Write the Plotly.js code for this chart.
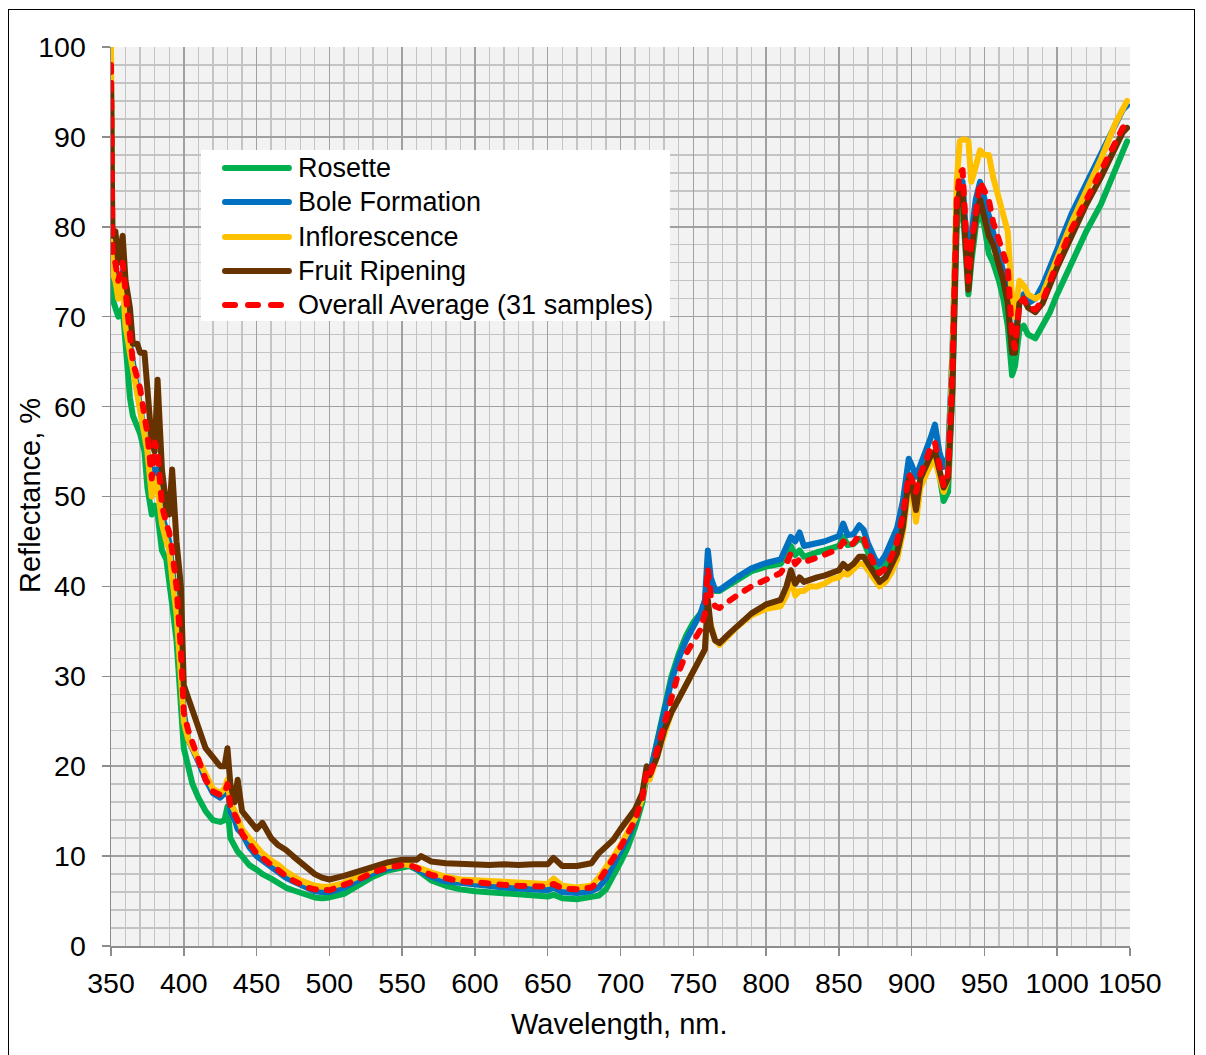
<!DOCTYPE html>
<html>
<head>
<meta charset="utf-8">
<script src="https://cdn.plot.ly/plotly-3.0.1.min.js"></script>
<style>
  html, body { margin: 0; padding: 0; background: #ffffff; }
  #wrap { position: relative; width: 1206px; height: 1055px; overflow: hidden; }
  #chart { position: absolute; left: 0; top: 0; width: 1206px; height: 1055px; }
  #frame { position: absolute; left: 8px; top: 9px; width: 1187px; height: 1100px;
           border: 1.5px solid #000; pointer-events: none; box-sizing: border-box; }
  #chart path.js-line { stroke-linecap: round !important; stroke-linejoin: round !important; }
  #chart .shapelayer path { stroke-linecap: round !important; }
</style>
</head>
<body>
<div id="wrap">
  <div id="chart"></div>
  <div id="frame"></div>
</div>
<script>
// ---- Data ----
const wavelength = [350,351,353,355,358,360,363,365,368,370,373,375,378,380,382,385,388,390,392,395,398,400,
  403,406,410,415,420,425,428,430,432,435,437,440,445,450,454,460,465,470,475,480,485,490,495,500,
  510,520,530,540,550,555,560,563,570,580,590,600,610,620,630,640,650,654,660,670,680,685,690,695,
  700,705,710,715,718,720,725,730,735,740,745,750,755,758,760,762,765,768,775,780,790,800,810,814,
  817,820,823,826,830,835,840,845,850,853,856,860,864,867,870,875,878,882,886,890,894,898,900,903,
  906,910,913,916,919,922,925,928,931,933,935,937,939,941,944,947,950,953,956,960,963,966,969,971,
  974,977,980,985,990,995,1000,1010,1020,1030,1040,1045,1048];

const rosette = [96,72,71,70,71,66,61,59,58,57,55,51,48,49,48,44,43,41,38,34,27,22,
  20,18,16.5,15,14,13.8,14,15.5,12,11,10.5,10,9,8.5,8,7.5,7,6.5,6.2,5.9,5.6,5.4,5.3,5.4,
  5.8,6.8,7.7,8.4,8.8,8.9,8.5,8.1,7.3,6.7,6.3,6.1,6,5.9,5.8,5.7,5.5,5.7,5.3,5.2,5.4,5.6,6.3,7.7,
  9.3,11,13.2,16,19,19,22.5,26.5,30,32.5,34.5,36,37,38,42,40.5,39.5,39.5,40.2,40.8,41.7,42.2,42.5,43.5,
  44.5,43.5,44,43.3,43.6,43.8,44,44.3,44.5,45.5,44.6,44.7,45.3,45,43.8,42.3,41.5,42.3,43.5,45,48,52.5,51.5,48.5,
  51.5,53,54,55,52.5,49.5,50.5,62,80,82,82.5,78,72.5,76,80,82,80,77,76,74,72,69,63.5,64.5,
  68.5,69,68,67.6,69,70.5,72.5,76.2,79.5,82.5,86.5,88.5,89.5];

const boleFormation = [97,76,75,73,75,70,67,65,63,61,58,56,52,53,53,48,46,45,42,38,31,26,
  23,22,20.5,18.5,17,16.5,17,18,15,14,13,12.5,11,10,9.5,8.8,8.2,7.6,7.2,6.8,6.4,6.1,6,6,
  6.5,7.3,8.1,8.6,9,9,8.6,8.3,7.7,7.2,7,6.8,6.6,6.5,6.4,6.3,6.2,6.5,6,5.9,6.1,6.5,7.5,9,
  10.5,12,14,16.5,19.5,19,22.5,26,29.5,32,34,35.5,37,38.5,44,41,39.6,39.6,40.5,41,42,42.6,43,44.5,
  45.5,45,46,44.5,44.6,44.8,45,45.3,45.6,47,45.7,45.8,46.8,46.3,44.8,43,42.5,43.5,45,46.5,49.5,54.2,53.5,52.2,
  53.5,55,56.5,58,55,53.3,54.4,66,83,85,85,80,75,79,83,85,83,81,79,77,75,72,66,67,
  72,72.5,71.5,72,73.5,75.5,77.5,81.5,84.8,88,91.5,93,93.5];

const inflorescence = [100,75,74,72,74,69,66,64,61,60,57,55,50,52,51,47,45,44,41,37,30,25,
  23,22,21,19,17.5,17,17.5,18.5,16,15,14,13,12,11,10.3,9.5,9,8.3,7.8,7.3,7,6.7,6.6,6.6,
  7,7.7,8.5,8.9,9.1,9,8.8,8.6,8.2,7.7,7.4,7.3,7.2,7.1,7,6.9,6.9,7.5,6.7,6.5,6.7,7.6,8.7,9.9,
  11.2,12.6,14.2,16.5,19.5,18.5,21,24,26,27.5,29,30.5,31.8,33,37,35.5,34,33.5,34.7,35.5,36.8,37.5,37.8,39,
  41,39,39.5,39.5,40,40,40.3,40.8,41,41.5,41.3,41.8,42.5,42.5,41.8,40.5,40,40.5,41.5,43,46,51,50.5,47.2,
  51,52.5,53.5,54,52,50.5,52,65,85,89.5,89.7,89.7,89.5,85,86.7,88.5,88,88,85.5,83,81.5,79.5,72,70,
  74,73.5,72.5,72,72.5,74.5,76.5,80.5,84,87.5,91.5,93,94];

const fruitRipening = [96,79,79.5,76,79,74,71,67,67,66,66,62,56,55,63,53,49,48,53,45,40,29,
  27.5,26,24,22,21,20,20,22,18,16,18.5,15,14,13,13.7,12,11.2,10.7,10,9.3,8.7,8,7.6,7.4,
  7.8,8.3,8.9,9.3,9.6,9.6,9.6,10,9.4,9.2,9.1,9,9,9.1,9,9.1,9.1,9.8,8.9,8.9,9.2,10.3,11,11.8,
  13,14,15.2,17,20,19,21,24,26,27.5,29,30.5,31.8,33,38.5,35.5,34,33.7,34.8,35.5,37,38,38.5,40,
  41.8,40.3,41,40.5,40.8,41,41.2,41.5,41.8,42.5,42,42.5,43.3,43.3,42.5,41,40.5,41,42.3,43.7,46.6,52,51.5,48.5,
  52,53.5,54.5,55,53,51,52,62,82,84,83.5,78,73,77,81,83,81,79,78,76,74,71.5,66,66,
  71.5,72,71,70.5,71.5,73.5,75.5,79,82.5,85.5,89,90.5,91];

const overallAverage = [98,77,76,74,76,72,68,65,63,62,59,57,52,56,55,49,47,46,44,40,33,26,
  24,22.5,20.5,18.5,17.2,16.8,17,18,15.5,14.5,14,12.5,11.5,10.3,9.8,9,8.5,7.8,7.3,6.9,6.5,6.3,6.2,6.2,
  6.8,7.4,8.2,8.7,9,9,8.7,8.4,7.9,7.5,7.2,7.1,6.9,6.8,6.7,6.7,6.6,6.9,6.4,6.3,6.5,7.2,8.4,9.8,
  11,12.5,14,16.4,19.3,18.8,21.8,25,28,30.5,32.5,34,35.2,37,42,39,37.8,37.6,38.5,39,40,40.8,41.5,42.5,
  43.7,42.5,43,42.7,43,43.2,43.5,43.8,44.2,45,44.4,44.8,45.7,45.4,44,42.2,41.5,42,43.3,45,48,52.5,52,50.5,
  52.5,54,55.5,56,53.5,51.2,52.5,64,83,86,86.3,80,74,78,82,85,84,83,80.5,78.5,77,75.5,68,66.5,
  71.5,72,71,70.8,71.8,74,76,79.8,83,86,89.5,91,91.5];

const seriesNames = ["Rosette", "Bole Formation", "Inflorescence", "Fruit Ripening", "Overall Average (31 samples)"];
const seriesValues = [rosette, boleFormation, inflorescence, fruitRipening, overallAverage];
const seriesColors = ["#00b050", "#0070c0", "#ffc000", "#663300", "#ff0000"];
const seriesDash = ["solid", "solid", "solid", "solid", "7px,11px"];

const xTickVals = [350,400,450,500,550,600,650,700,750,800,850,900,950,1000,1050];
const yTickVals = [0,10,20,30,40,50,60,70,80,90,100];
const xTitle = "Wavelength, nm.";
const yTitle = "Reflectance, %";

const FONT = "Liberation Sans, Arial, sans-serif";

// ---- Traces ----
const traces = seriesNames.map((name, i) => ({
  type: "scatter",
  mode: "lines",
  name: name,
  x: wavelength,
  y: seriesValues[i],
  line: { color: seriesColors[i], width: 6, dash: seriesDash[i], shape: "linear" },
  showlegend: false,
  hoverinfo: "x+y+name"
}));

// ---- Custom legend (long line samples like the original) ----
const L = { x0: 0.0883, x1: 0.5485, yTop: 0.8854, yBot: 0.6952,
            lineX0: 0.1119, lineX1: 0.1746, textX: 0.1816,
            rowY: [0.8654, 0.8276, 0.7887, 0.7509, 0.7131] };
const shapes = [{
  type: "rect", xref: "paper", yref: "paper", layer: "above",
  x0: L.x0, x1: L.x1, y0: L.yBot, y1: L.yTop,
  fillcolor: "#ffffff", line: { width: 0 }
}];
const annotations = [];
seriesNames.forEach((name, i) => {
  shapes.push({
    type: "line", xref: "paper", yref: "paper", layer: "above",
    x0: i === 4 ? 0.1119 : L.lineX0, x1: L.lineX1, y0: L.rowY[i], y1: L.rowY[i],
    line: { color: seriesColors[i], width: 6, dash: i === 4 ? "10px,13px" : "solid" }
  });
  annotations.push({
    xref: "paper", yref: "paper", x: L.textX, y: L.rowY[i],
    xanchor: "left", yanchor: "middle", showarrow: false,
    text: name, font: { family: FONT, size: 27, color: "#000" }
  });
});
// axis titles
annotations.push({
  xref: "paper", yref: "paper", x: 0.4995, y: -0.0868,
  xanchor: "center", yanchor: "middle", showarrow: false,
  text: xTitle, font: { family: FONT, size: 29, color: "#000" }
});
annotations.push({
  xref: "paper", yref: "paper", x: -0.0795, y: 0.5017, textangle: -90,
  xanchor: "center", yanchor: "middle", showarrow: false,
  text: yTitle, font: { family: FONT, size: 29, color: "#000" }
});

const layout = {
  width: 1206, height: 1055,
  margin: { l: 111, r: 76, t: 47, b: 109, pad: 0 },
  paper_bgcolor: "#ffffff",
  plot_bgcolor: "#f2f2f2",
  font: { family: FONT, size: 28.5, color: "#000" },
  showlegend: false,
  xaxis: {
    range: [350, 1050], tickvals: xTickVals, ticktext: xTickVals.map(String),
    showgrid: true, gridcolor: "#a0a0a0", gridwidth: 1.5,
    minor: { dtick: 10, tick0: 350, showgrid: true, gridcolor: "#c4c4c4", gridwidth: 1.4, ticks: "" },
    ticks: "outside", ticklen: 8, tickwidth: 1.5, tickcolor: "#8c8c8c",
    showline: true, linecolor: "#8c8c8c", linewidth: 1.5,
    zeroline: false, ticklabelstandoff: 3,
    tickfont: { size: 28.5 },
    automargin: false, fixedrange: true
  },
  yaxis: {
    range: [0, 100], tickvals: yTickVals, ticktext: yTickVals.map(String),
    showgrid: true, gridcolor: "#a0a0a0", gridwidth: 1.5,
    minor: { dtick: 2, tick0: 0, showgrid: true, gridcolor: "#c4c4c4", gridwidth: 1.4, ticks: "" },
    ticks: "outside", ticklen: 8, tickwidth: 1.5, tickcolor: "#8c8c8c",
    showline: true, linecolor: "#8c8c8c", linewidth: 1.5,
    zeroline: false, ticklabelstandoff: 10,
    tickfont: { size: 28.5 },
    automargin: false, fixedrange: true
  },
  shapes: shapes,
  annotations: annotations
};

Plotly.newPlot("chart", traces, layout, { displayModeBar: false, staticPlot: true });
</script>
</body>
</html>
